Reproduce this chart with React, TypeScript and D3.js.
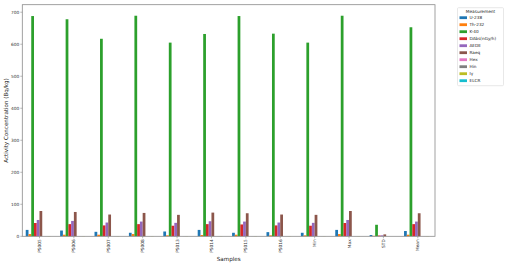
import React from "react";
import * as d3 from "d3";

const categories = ["PS005", "PS006", "PS007", "PS008", "PS013", "PS014", "PS015", "PS016", "Min", "Max", "STD", "Mean"];
const seriesNames = ["U-238", "Th-232", "K-40", "DAbs(nGy/h)", "AEDE", "Raeq", "Hex", "Hin", "Iγ", "ELCR"];
const u238 = [20, 18, 14, 11, 15, 20, 11, 13, 11, 20, 4, 16.5];
const th232 = [7, 5, 5, 7, 3, 4, 5, 3, 3, 7, 1.5, 5];
const k40 = [688, 678, 617, 689, 605, 632, 688, 633, 605, 689, 36, 653];
const dabs = [41.5, 38, 34, 38, 33, 38, 37, 34, 33, 41.5, 2.5, 38];
const aede = [51, 48, 43, 46, 42, 47, 46, 43, 42, 51, 3, 46];
const raeq = [79, 76, 68, 73, 67, 74, 72, 68, 67, 79, 6, 72];
const hex = [0.21, 0.2, 0.18, 0.2, 0.18, 0.2, 0.19, 0.18, 0.18, 0.21, 0.02, 0.2];
const hin = [0.27, 0.25, 0.22, 0.23, 0.22, 0.25, 0.22, 0.22, 0.22, 0.27, 0.03, 0.24];
const igamma = [0.6, 0.57, 0.52, 0.57, 0.5, 0.55, 0.56, 0.52, 0.5, 0.6, 0.04, 0.55];
const elcr = [0.0002, 0.0002, 0.0002, 0.0002, 0.0002, 0.0002, 0.0002, 0.0002, 0.0002, 0.0002, 0.00001, 0.0002];
const yTicks = [0, 100, 200, 300, 400, 500, 600, 700];
const colors = ["#1f77b4", "#ff7f0e", "#2ca02c", "#d62728", "#9467bd", "#8c564b", "#e377c2", "#7f7f7f", "#bcbd22", "#17becf"];

const seriesValues = [u238, th232, k40, dabs, aede, raeq, hex, hin, igamma, elcr];

const W = 506;
const H = 267;
const L = 22.3, R = 435, T = 4.7, B = 236.3;
const FONT = "DejaVu Sans, sans-serif";

export default function App() {
  const n = seriesNames.length;
  const groupWidth = 0.8;
  const bw = groupWidth / n;
  const x = d3.scaleLinear().domain([-0.5, categories.length - 0.5]).range([L, R]);
  const yMax = d3.max(k40)! * 1.05;
  const y = d3.scaleLinear().domain([0, yMax]).range([B, T]);
  const spine = "#8a8a8a";

  return (
    <svg width={W} height={H} style={{ position: "absolute", left: 0, top: 0, background: "#fff" }} fontFamily={FONT}>
      {/* bars */}
      {seriesValues.map((vals, si) => (
        <g key={si} fill={colors[si]}>
          {vals.map((v, ci) => {
            const x0 = x(ci - groupWidth / 2 + si * bw);
            const x1 = x(ci - groupWidth / 2 + (si + 1) * bw);
            return <rect key={ci} x={x0} y={y(v)} width={x1 - x0} height={B - y(v)} />;
          })}
        </g>
      ))}
      {/* spines */}
      <rect x={L} y={T} width={R - L} height={B - T} fill="none" stroke={spine} strokeWidth={0.8} />
      {/* y ticks */}
      {yTicks.map((t) => (
        <g key={t} transform={`translate(0,${y(t)})`}>
          <line x1={L - 2} x2={L} stroke={spine} strokeWidth={0.6} />
          <text x={L - 3} dy="0.35em" textAnchor="end" fontSize={4.3} fill="#333">{t}</text>
        </g>
      ))}
      {/* x ticks */}
      {categories.map((c, i) => (
        <g key={c} transform={`translate(${x(i)},${B})`}>
          <line y1={0} y2={2} stroke={spine} strokeWidth={0.6} />
          <text transform="translate(0,3) rotate(-90)" textAnchor="end" dy="0.35em" fontSize={4.3} fill="#333">{c}</text>
        </g>
      ))}
      {/* axis labels */}
      <text transform={`translate(6.5,${(T + B) / 2}) rotate(-90)`} textAnchor="middle" dy="0.35em" fontSize={5.6} fill="#222">Activity Concentration (Bq/kg)</text>
      <text x={(L + R) / 2} y={261} textAnchor="middle" fontSize={5.6} fill="#222">Samples</text>
      {/* legend */}
      <g>
        <rect x={457.5} y={7.7} width={46} height={78} fill="#fff" stroke="#d8d8d8" strokeWidth={0.6} rx={1} />
        <text x={480.5} y={11.5} textAnchor="middle" dy="0.35em" fontSize={4.3} fill="#222">Measurement</text>
        {seriesNames.map((s, i) => (
          <g key={s} transform={`translate(0,${17.7 + i * 7})`}>
            <rect x={459.5} y={-1.4} width={7.5} height={2.8} fill={colors[i]} />
            <text x={469.5} dy="0.35em" fontSize={4.2} fill="#222">{s}</text>
          </g>
        ))}
      </g>
    </svg>
  );
}
